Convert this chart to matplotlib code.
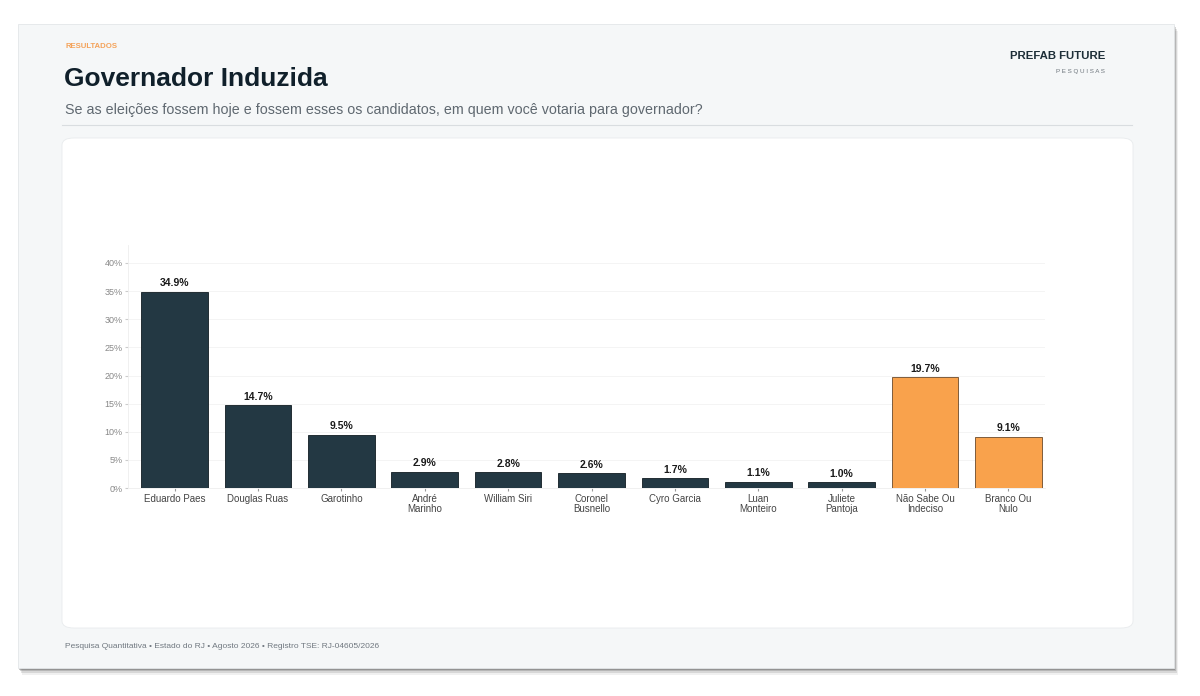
import matplotlib.pyplot as plt
from matplotlib.patches import FancyBboxPatch, Rectangle
from matplotlib.ticker import FuncFormatter

# data
candidatos = ['Eduardo Paes', 'Douglas Ruas', 'Garotinho', 'André\nMarinho', 'William Siri',
              'Coronel\nBusnello', 'Cyro Garcia', 'Luan\nMonteiro', 'Juliete\nPantoja',
              'Não Sabe Ou\nIndeciso', 'Branco Ou\nNulo']
valores = [34.9, 14.7, 9.5, 2.9, 2.8, 2.6, 1.7, 1.1, 1.0, 19.7, 9.1]
grupo = ['c'] * 9 + ['o'] * 2
y_ticks = [0, 5, 10, 15, 20, 25, 30, 35, 40]

W, H = 1200, 696
DARK = '#233843'
ORANGE = '#f9a24c'

plt.rcParams['font.family'] = ['Liberation Sans', 'DejaVu Sans']

fig = plt.figure(figsize=(12, 6.96), dpi=100)
fig.patch.set_facecolor('white')


def fx(x):
    return x / W


def fy(y):
    return 1 - y / H


# slide with shadow
for off, a in [(7, 0.08), (5, 0.14), (3, 0.22), (1.5, 0.3)]:
    fig.patches.append(Rectangle((fx(18 + off / 2), fy(668 + off)), fx(1156), (668 - 24) / H,
                                 transform=fig.transFigure, facecolor='#444444', alpha=a,
                                 edgecolor='none', zorder=0))
fig.patches.append(Rectangle((fx(18), fy(668)), fx(1156), (668 - 24) / H,
                             transform=fig.transFigure, facecolor='#f5f7f8',
                             edgecolor='#e3e6e8', lw=0.6, zorder=1))

# white card
fig.patches.append(FancyBboxPatch((fx(62), fy(628)), fx(1071), (628 - 138) / H,
                                  boxstyle='round,pad=0,rounding_size=0.01',
                                  transform=fig.transFigure, facecolor='white',
                                  edgecolor='#e8ebed', lw=0.6, zorder=2))

# separator
fig.lines.append(plt.Line2D([fx(62), fx(1132)], [fy(125), fy(125)], transform=fig.transFigure,
                            color='#d9dde0', lw=0.8, zorder=2))

fig.text(fx(65), fy(47), 'RESULTADOS', color='#f4a259', fontsize=5.6, fontweight='bold',
         va='center', ha='left')
fig.text(fx(64), fy(79), 'Governador Induzida', color='#10202b', fontsize=19, fontweight='bold',
         va='center', ha='left')
fig.text(fx(65), fy(110), 'Se as eleições fossem hoje e fossem esses os candidatos, em quem você votaria para governador?',
         color='#5f6870', fontsize=10.3, va='center', ha='left')
fig.text(fx(1105), fy(56), 'PREFAB FUTURE', color='#1d2e38', fontsize=8.2, fontweight='bold',
         va='center', ha='right')
fig.text(fx(1105), fy(71), 'P E S Q U I S A S', color='#6b737a', fontsize=4.5,
         va='center', ha='right')
fig.text(fx(65), fy(647), 'Pesquisa Quantitativa • Estado do RJ • Agosto 2026 • Registro TSE: RJ-04605/2026',
         color='#707880', fontsize=6, va='center', ha='left')

# chart
ax = fig.add_axes([fx(128), fy(488), fx(1045 - 128), (488 - 245) / H], zorder=3)
ax.set_facecolor('none')
cores = [DARK if g == 'c' else ORANGE for g in grupo]
bordas = ['#111c22' if g == 'c' else '#6b4a2a' for g in grupo]
x = range(len(candidatos))
ax.bar(x, valores, width=0.8, color=cores, edgecolor=bordas, linewidth=0.6, zorder=3)
for i, v in zip(x, valores):
    ax.text(i, v + 0.6, f'{v:.1f}%', ha='center', va='bottom', fontsize=7.5,
            fontweight='bold', color='#1a1a1a', zorder=4)

ax.set_xlim(-0.56, 10.44)
ax.set_ylim(0, 43.2)
ax.set_yticks(y_ticks)
ax.yaxis.set_major_formatter(FuncFormatter(lambda v, p: f'{v:.0f}%'))
ax.set_xticks(list(x))
ax.set_xticklabels(candidatos, fontsize=7, color='#444444', linespacing=1.0)
ax.tick_params(axis='y', labelsize=6.5, labelcolor='#888888', length=2, color='#cccccc', pad=2)
ax.tick_params(axis='x', length=2, color='#999999', pad=2)
ax.grid(axis='y', color='#f2f2f2', lw=0.6, zorder=0)
for s in ['top', 'right']:
    ax.spines[s].set_visible(False)
ax.spines['left'].set_color('#eeeeee')
ax.spines['left'].set_linewidth(0.6)
ax.spines['bottom'].set_color('#eeeeee')
ax.spines['bottom'].set_linewidth(0.6)

fig.savefig('out.png', dpi=100)
